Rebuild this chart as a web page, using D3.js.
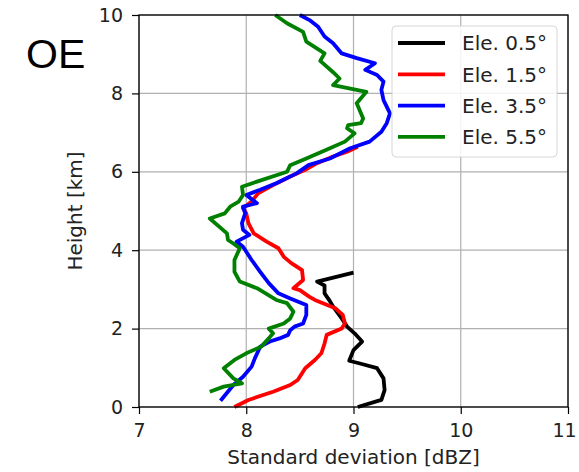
<!doctype html>
<html>
  <head>
    <meta charset="utf-8">
    <title>OE standard deviation profiles</title>
    <script src="https://cdnjs.cloudflare.com/ajax/libs/d3/7.8.5/d3.min.js"></script>
    <style>
      body { margin: 0; background: #fff; }
      text { font-family: "DejaVu Sans", sans-serif; fill: #222; }
    </style>
  </head>
  <body>
    <div id="chart"></div>
    <script>
      // Data (height in km, std. dev. in dBZ), top to bottom
      const labels = ['Ele. 0.5°', 'Ele. 1.5°', 'Ele. 3.5°', 'Ele. 5.5°'];
      const colors = ['#000000', '#ff0000', '#0000ff', '#008000'];

      const h05 = [3.43, 3.2, 3.1, 2.9, 2.7, 2.56, 2.26, 2.05, 1.88, 1.67, 1.45, 1.18, 1.11, 0.99, 0.73, 0.43, 0.18, 0];
      const v05 = [9.0, 8.66, 8.73, 8.73, 8.78, 8.81, 8.89, 8.94, 9.01, 9.08, 9.0, 8.96, 9.06, 9.22, 9.28, 9.29, 9.26, 9.04];

      const h15 = [6.64, 6.51, 6.39, 6.22, 6.05, 5.88, 5.66, 5.45, 5.24, 5.07, 4.94, 4.69, 4.43, 4.22, 4.05, 3.83, 3.67, 3.49, 3.24, 3.03, 2.98, 2.81, 2.73, 2.52, 2.35, 2.13, 2.0, 1.84, 1.62, 1.37, 1.2, 0.99, 0.69, 0.56, 0.39, 0.18, 0];
      const v15 = [9.04, 8.94, 8.81, 8.66, 8.55, 8.41, 8.25, 8.11, 8.05, 7.97, 8.0, 8.02, 8.07, 8.19, 8.3, 8.35, 8.42, 8.52, 8.53, 8.44, 8.5, 8.59, 8.64, 8.83, 8.9, 8.92, 8.89, 8.75, 8.73, 8.7, 8.64, 8.55, 8.48, 8.41, 8.25, 8.02, 7.89];

      const h35 = [10, 9.87, 9.7, 9.45, 9.28, 9.02, 8.9, 8.77, 8.6, 8.47, 8.3, 8.09, 7.83, 7.49, 7.24, 7.02, 6.77, 6.6, 6.34, 6.17, 5.96, 5.71, 5.54, 5.41, 5.2, 5.11, 4.94, 4.69, 4.52, 4.39, 4.22, 4.09, 3.75, 3.45, 3.16, 2.9, 2.77, 2.6, 2.35, 2.13, 2.05, 1.96, 1.84, 1.75, 1.67, 1.54, 1.24, 1.03, 0.77, 0.56, 0.16];
      const v35 = [8.5, 8.59, 8.67, 8.73, 8.81, 8.89, 9.03, 9.2, 9.11, 9.22, 9.28, 9.26, 9.28, 9.34, 9.31, 9.26, 9.15, 8.97, 8.78, 8.58, 8.47, 8.28, 8.13, 8.0, 8.1, 7.97, 7.99, 7.96, 7.97, 8.03, 7.91, 7.97, 8.05, 8.13, 8.21, 8.3, 8.41, 8.56, 8.56, 8.53, 8.45, 8.41, 8.39, 8.31, 8.22, 8.13, 8.08, 8.05, 7.97, 7.88, 7.76];

      const h55 = [10, 9.79, 9.57, 9.32, 9.02, 8.83, 8.54, 8.38, 8.21, 8.04, 7.75, 7.36, 7.24, 7.19, 7.11, 6.98, 6.77, 6.6, 6.34, 6.17, 6.0, 5.75, 5.62, 5.41, 5.24, 5.11, 4.94, 4.81, 4.43, 4.26, 4.17, 4.05, 3.75, 3.45, 3.2, 3.03, 2.73, 2.65, 2.43, 2.26, 2.13, 2.0, 1.88, 1.75, 1.54, 1.37, 1.2, 0.99, 0.73, 0.6, 0.52, 0.39];
      const v55 = [8.27, 8.38, 8.53, 8.56, 8.73, 8.69, 8.81, 8.87, 8.81, 9.12, 9.03, 9.09, 9.07, 8.95, 8.94, 9.01, 8.92, 8.78, 8.56, 8.41, 8.38, 8.1, 7.96, 7.97, 7.93, 7.85, 7.8, 7.66, 7.82, 7.83, 7.88, 7.94, 7.89, 7.89, 7.94, 8.1, 8.28, 8.38, 8.44, 8.41, 8.35, 8.21, 8.25, 8.21, 8.14, 8.0, 7.89, 7.79, 7.88, 7.96, 7.79, 7.66];

      const xTicks = [7, 8, 9, 10, 11];
      const yTicks = [0, 2, 4, 6, 8, 10];

      const series = [[h05, v05], [h15, v15], [h35, v35], [h55, v55]].map((s, i) => ({
        label: labels[i],
        color: colors[i],
        points: s[0].map((h, j) => ({ h: h, v: s[1][j] }))
      }));

      const width = 579, height = 472;
      const margin = { top: 15, right: 11, bottom: 65, left: 139 };

      const x = d3.scaleLinear().domain([7, 11]).range([margin.left, width - margin.right]);
      const y = d3.scaleLinear().domain([0, 10]).range([height - margin.bottom, margin.top]);

      const svg = d3.select('#chart')
        .append('svg')
        .attr('width', width)
        .attr('height', height);

      // grid
      svg.append('g')
        .selectAll('line')
        .data(xTicks)
        .join('line')
        .attr('x1', d => x(d)).attr('x2', d => x(d))
        .attr('y1', y(0)).attr('y2', y(10))
        .attr('stroke', '#b0b0b0').attr('stroke-width', 1.2);

      svg.append('g')
        .selectAll('line')
        .data(yTicks)
        .join('line')
        .attr('x1', x(7)).attr('x2', x(11))
        .attr('y1', d => y(d)).attr('y2', d => y(d))
        .attr('stroke', '#b0b0b0').attr('stroke-width', 1.2);

      // lines
      const line = d3.line()
        .x(d => x(d.v))
        .y(d => y(d.h));

      svg.append('g')
        .selectAll('path')
        .data(series)
        .join('path')
        .attr('d', d => line(d.points))
        .attr('fill', 'none')
        .attr('stroke', d => d.color)
        .attr('stroke-width', 3.8)
        .attr('stroke-linejoin', 'round');

      // frame
      svg.append('rect')
        .attr('x', x(7)).attr('y', y(10))
        .attr('width', x(11) - x(7)).attr('height', y(0) - y(10))
        .attr('fill', 'none').attr('stroke', '#000').attr('stroke-width', 1.3);

      // axes
      const xAxis = svg.append('g')
        .attr('transform', `translate(0,${y(0)})`)
        .call(d3.axisBottom(x).tickValues(xTicks).tickFormat(d3.format('d'))
          .tickSize(7).tickPadding(10).tickSizeOuter(0));
      const yAxis = svg.append('g')
        .attr('transform', `translate(${x(7)},0)`)
        .call(d3.axisLeft(y).tickValues(yTicks).tickFormat(d3.format('d'))
          .tickSize(7).tickPadding(9).tickSizeOuter(0));

      [xAxis, yAxis].forEach(g => {
        g.select('.domain').remove();
        g.selectAll('.tick line').attr('stroke', '#000').attr('stroke-width', 1.2);
        g.selectAll('.tick text')
          .attr('fill', '#222')
          .style('font-family', '"DejaVu Sans", sans-serif')
          .style('font-size', '19px');
      });
      // last x label sits at the window edge; pull it in a little
      xAxis.selectAll('.tick text').filter(d => d === 11).attr('dx', -4);

      // axis titles
      svg.append('text')
        .attr('x', (x(7) + x(11)) / 2)
        .attr('y', 464)
        .attr('text-anchor', 'middle')
        .attr('font-size', '20px')
        .text('Standard deviation [dBZ]');

      svg.append('text')
        .attr('transform', `translate(82,${(y(0) + y(10)) / 2}) rotate(-90)`)
        .attr('text-anchor', 'middle')
        .attr('font-size', '20px')
        .text('Height [km]');

      // panel tag
      svg.append('text')
        .attr('x', 26)
        .attr('y', 68)
        .style('font-family', '"Liberation Sans", Arial, sans-serif')
        .style('fill', '#000')
        .attr('font-size', '41px')
        .text('OE');

      // legend
      const legend = svg.append('g');
      legend.append('rect')
        .attr('x', 392).attr('y', 26)
        .attr('width', 165).attr('height', 131)
        .attr('rx', 4)
        .attr('fill', '#fff').attr('fill-opacity', 0.85)
        .attr('stroke', '#d6d6d6');

      const rows = legend.selectAll('g.row')
        .data(series)
        .join('g')
        .attr('class', 'row')
        .attr('transform', (d, i) => `translate(0,${43 + i * 31.3})`);

      rows.append('line')
        .attr('x1', 398).attr('x2', 445)
        .attr('stroke', d => d.color)
        .attr('stroke-width', 3.8);

      rows.append('text')
        .attr('x', 462)
        .attr('dy', '0.36em')
        .attr('font-size', '20px')
        .text(d => d.label);
    </script>
  </body>
</html>
